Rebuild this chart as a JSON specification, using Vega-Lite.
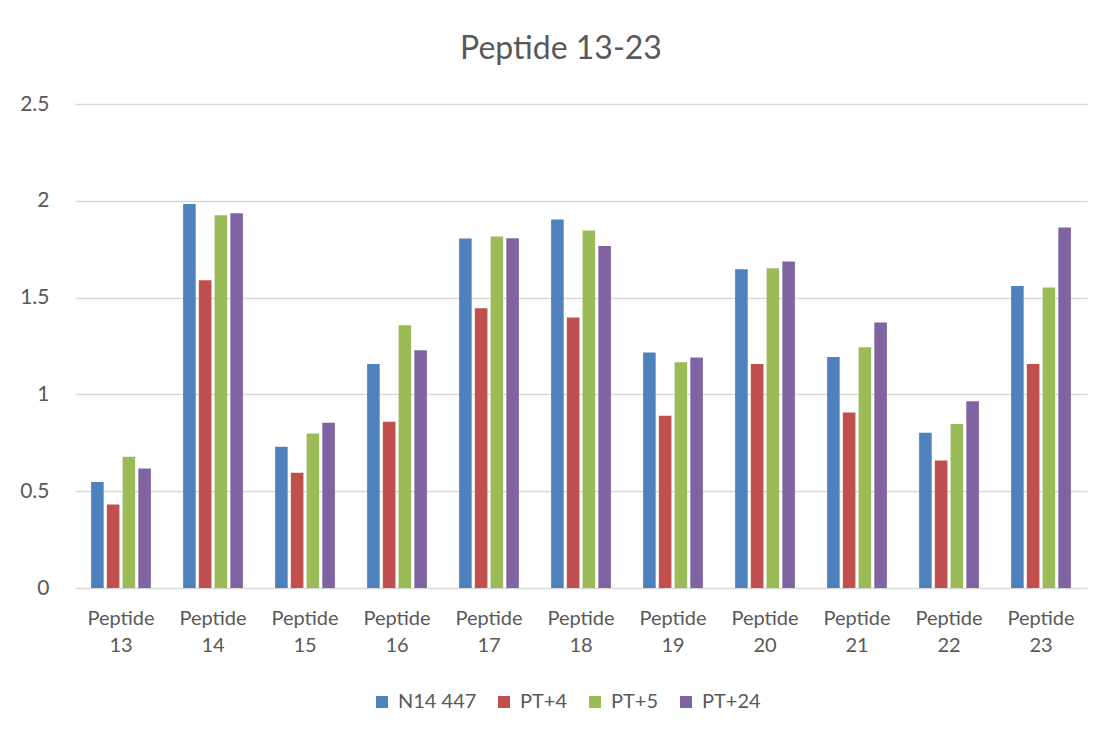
{
  "$schema": "https://vega.github.io/schema/vega-lite/v6.json",
  "autosize": {"type": "none"},
  "padding": {"left": 75, "top": 104, "right": 20, "bottom": 148},
  "width": 1012,
  "height": 484,
  "background": "white",
  "config": {
    "view": {"stroke": null},
    "font": "Lato",
    "axis": {"labelFont": "Lato", "labelColor": "#595959", "labelFontSize": 20},
    "legend": {"labelFont": "Lato", "labelColor": "#595959", "labelFontSize": 20}
  },
  "title": {
    "text": "Peptide 13-23",
    "font": "Lato",
    "fontSize": 32,
    "fontWeight": "normal",
    "color": "#595959",
    "offset": 27,
    "dx": -20
  },
  "data": {
    "values": [
      {"peptide": "Peptide 13", "series": "N14 447", "value": 0.547},
      {"peptide": "Peptide 13", "series": "PT+4", "value": 0.431},
      {"peptide": "Peptide 13", "series": "PT+5", "value": 0.678},
      {"peptide": "Peptide 13", "series": "PT+24", "value": 0.617},
      {"peptide": "Peptide 14", "series": "N14 447", "value": 1.984},
      {"peptide": "Peptide 14", "series": "PT+4", "value": 1.590},
      {"peptide": "Peptide 14", "series": "PT+5", "value": 1.926},
      {"peptide": "Peptide 14", "series": "PT+24", "value": 1.936},
      {"peptide": "Peptide 15", "series": "N14 447", "value": 0.729},
      {"peptide": "Peptide 15", "series": "PT+4", "value": 0.595},
      {"peptide": "Peptide 15", "series": "PT+5", "value": 0.798},
      {"peptide": "Peptide 15", "series": "PT+24", "value": 0.853},
      {"peptide": "Peptide 16", "series": "N14 447", "value": 1.157},
      {"peptide": "Peptide 16", "series": "PT+4", "value": 0.859},
      {"peptide": "Peptide 16", "series": "PT+5", "value": 1.357},
      {"peptide": "Peptide 16", "series": "PT+24", "value": 1.228},
      {"peptide": "Peptide 17", "series": "N14 447", "value": 1.805},
      {"peptide": "Peptide 17", "series": "PT+4", "value": 1.445},
      {"peptide": "Peptide 17", "series": "PT+5", "value": 1.816},
      {"peptide": "Peptide 17", "series": "PT+24", "value": 1.807},
      {"peptide": "Peptide 18", "series": "N14 447", "value": 1.903},
      {"peptide": "Peptide 18", "series": "PT+4", "value": 1.397},
      {"peptide": "Peptide 18", "series": "PT+5", "value": 1.847},
      {"peptide": "Peptide 18", "series": "PT+24", "value": 1.767},
      {"peptide": "Peptide 19", "series": "N14 447", "value": 1.216},
      {"peptide": "Peptide 19", "series": "PT+4", "value": 0.890},
      {"peptide": "Peptide 19", "series": "PT+5", "value": 1.166},
      {"peptide": "Peptide 19", "series": "PT+24", "value": 1.190},
      {"peptide": "Peptide 20", "series": "N14 447", "value": 1.647},
      {"peptide": "Peptide 20", "series": "PT+4", "value": 1.157},
      {"peptide": "Peptide 20", "series": "PT+5", "value": 1.652},
      {"peptide": "Peptide 20", "series": "PT+24", "value": 1.686},
      {"peptide": "Peptide 21", "series": "N14 447", "value": 1.193},
      {"peptide": "Peptide 21", "series": "PT+4", "value": 0.907},
      {"peptide": "Peptide 21", "series": "PT+5", "value": 1.243},
      {"peptide": "Peptide 21", "series": "PT+24", "value": 1.372},
      {"peptide": "Peptide 22", "series": "N14 447", "value": 0.802},
      {"peptide": "Peptide 22", "series": "PT+4", "value": 0.659},
      {"peptide": "Peptide 22", "series": "PT+5", "value": 0.847},
      {"peptide": "Peptide 22", "series": "PT+24", "value": 0.964},
      {"peptide": "Peptide 23", "series": "N14 447", "value": 1.560},
      {"peptide": "Peptide 23", "series": "PT+4", "value": 1.157},
      {"peptide": "Peptide 23", "series": "PT+5", "value": 1.552},
      {"peptide": "Peptide 23", "series": "PT+24", "value": 1.862}
    ]
  },
  "mark": {"type": "bar"},
  "encoding": {
    "x": {
      "field": "peptide",
      "type": "nominal",
      "scale": {"paddingInner": 0.35, "paddingOuter": 0.175},
      "axis": {
        "title": null,
        "labelAngle": 0,
        "ticks": false,
        "domain": false,
        "labelPadding": 20,
        "labelLineHeight": 27,
        "labelExpr": "split(datum.label, ' ')"
      }
    },
    "xOffset": {
      "field": "series",
      "type": "nominal",
      "sort": ["N14 447", "PT+4", "PT+5", "PT+24"],
      "scale": {"paddingInner": 0.2}
    },
    "y": {
      "field": "value",
      "type": "quantitative",
      "scale": {"domain": [0, 2.5], "nice": false},
      "axis": {
        "title": null,
        "values": [0, 0.5, 1, 1.5, 2, 2.5],
        "format": "~g",
        "ticks": false,
        "domain": false,
        "labelPadding": 26,
        "labelFontSize": 21,
        "gridColor": "#d9d9d9",
        "gridWidth": 1.3
      }
    },
    "color": {
      "field": "series",
      "type": "nominal",
      "sort": ["N14 447", "PT+4", "PT+5", "PT+24"],
      "scale": {
        "domain": ["N14 447", "PT+4", "PT+5", "PT+24"],
        "range": ["#4F81BD", "#C0504D", "#9BBB59", "#8064A2"]
      },
      "legend": {
        "title": null,
        "orient": "none",
        "legendX": 297,
        "legendY": 588,
        "direction": "horizontal",
        "symbolType": "square",
        "symbolSize": 144,
        "symbolStrokeWidth": 0,
        "labelOffset": 6,
        "columnPadding": 17
      }
    }
  }
}
